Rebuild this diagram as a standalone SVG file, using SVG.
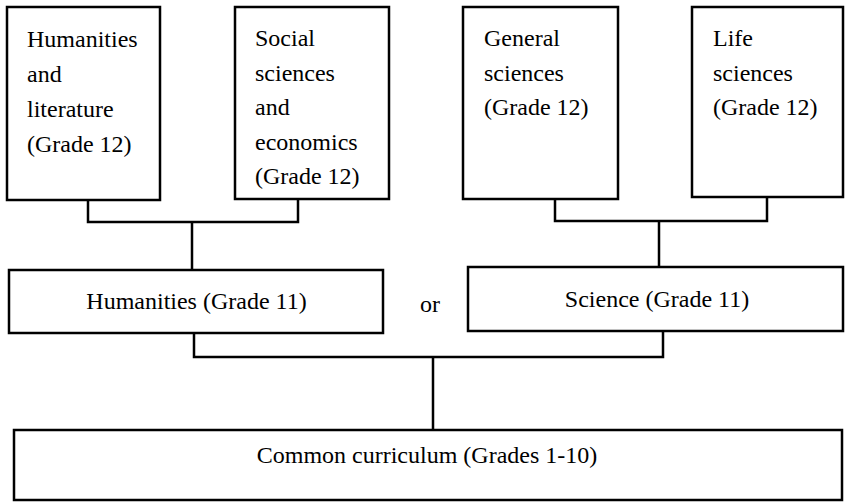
<svg xmlns="http://www.w3.org/2000/svg" width="845" height="502" viewBox="0 0 845 502">
<style>
.box{fill:#fff;stroke:#000;stroke-width:2.5}
.ln{fill:none;stroke:#000;stroke-width:2.5}
text{font-family:'Liberation Serif','Tinos','Times New Roman','DejaVu Serif',serif;font-size:24px;fill:#000}
.c{text-anchor:middle}
</style>
<rect width="845" height="502" fill="#fff"/>
<g id="connectors">
<path class="ln" d="M88,200 V222 H298 V199 M192,222 V270"/>
<path class="ln" d="M555,199 V221 H767 V197 M659,221 V267"/>
<path class="ln" d="M194,333 V357 H663 V331 M433,357 V430"/>
</g>
<g id="n1">
<rect class="box" x="7" y="7" width="153" height="193"/>
<text x="27"><tspan x="27" y="47">Humanities</tspan><tspan x="27" y="82">and</tspan><tspan x="27" y="117">literature</tspan><tspan x="27" y="152">(Grade 12)</tspan></text>
</g>
<g id="n2">
<rect class="box" x="235" y="7" width="154" height="192"/>
<text x="255"><tspan x="255" y="46">Social</tspan><tspan x="255" y="80.5">sciences</tspan><tspan x="255" y="115">and</tspan><tspan x="255" y="149.5">economics</tspan><tspan x="255" y="184">(Grade 12)</tspan></text>
</g>
<g id="n3">
<rect class="box" x="463" y="7" width="155" height="192"/>
<text x="484"><tspan x="484" y="46">General</tspan><tspan x="484" y="80.5">sciences</tspan><tspan x="484" y="115">(Grade 12)</tspan></text>
</g>
<g id="n4">
<rect class="box" x="692" y="7" width="151" height="190"/>
<text x="713"><tspan x="713" y="46">Life</tspan><tspan x="713" y="80.5">sciences</tspan><tspan x="713" y="115">(Grade 12)</tspan></text>
</g>
<g id="n5">
<rect class="box" x="9" y="270" width="374" height="63"/>
<text class="c" x="196.5" y="309">Humanities (Grade 11)</text>
</g>
<g id="or">
<text class="c" x="430" y="312">or</text>
</g>
<g id="n6">
<rect class="box" x="468" y="267" width="375" height="64"/>
<text class="c" x="657" y="307">Science (Grade 11)</text>
</g>
<g id="n7">
<rect class="box" x="14" y="430" width="828" height="70"/>
<text class="c" x="427" y="463">Common curriculum (Grades 1-10)</text>
</g>
</svg>
